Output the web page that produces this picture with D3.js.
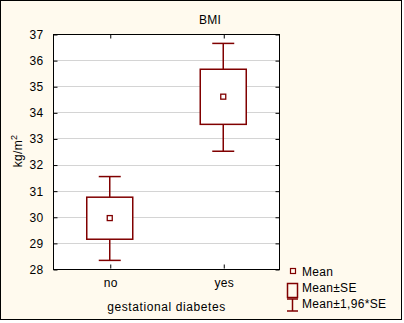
<!DOCTYPE html>
<html>
<head>
<meta charset="utf-8">
<script src="https://cdn.jsdelivr.net/npm/d3@7"></script>
<style>
  body { margin: 0; background: #fff; }
  svg { display: block; font-family: Arial, "Liberation Sans", sans-serif; letter-spacing: 0.3px; }
</style>
</head>
<body>
<svg id="chart" width="404" height="323"></svg>
<script>
'use strict';

const categories = ['no', 'yes'];
const means = [29.95, 34.6];
const seLow = [29.14, 33.54];
const seHigh = [30.75, 35.65];
const ciLow = [28.33, 32.51];
const ciHigh = [31.54, 36.64];
const yTicks = [28, 29, 30, 31, 32, 33, 34, 35, 36, 37];
const legendLabels = ['Mean', 'Mean±SE', 'Mean±1,96*SE'];

const dark = '#800000';
const svg = d3.select('#chart');

// outer panel
svg.append('rect')
    .attr('x', 0.5).attr('y', 0.5)
    .attr('width', 401).attr('height', 319)
    .attr('fill', '#fffaee')
    .attr('stroke', '#000');

const plot = { left: 53, right: 280, top: 34, bottom: 269 };

const x = d3.scalePoint().domain(categories)
    .range([plot.left, plot.right]).padding(0.5);
const y = d3.scaleLinear().domain([28, 37])
    .range([plot.bottom, plot.top]);

svg.append('rect')
    .attr('x', plot.left).attr('y', plot.top)
    .attr('width', plot.right - plot.left).attr('height', plot.bottom - plot.top)
    .attr('fill', '#fff');

// grid
svg.append('g').selectAll('line')
    .data(yTicks.slice(1, -1)).enter().append('line')
    .attr('x1', plot.left).attr('x2', plot.right)
    .attr('y1', d => Math.round(y(d)) + 0.5).attr('y2', d => Math.round(y(d)) + 0.5)
    .attr('stroke', '#d4d4d4');

// axes with inward ticks
function styleAxis(g) {
    g.select('.domain').remove();
    g.selectAll('text').attr('font-size', 12).attr('fill', '#000');
    g.selectAll('line').attr('stroke', '#000');
}

svg.append('g')
    .attr('transform', 'translate(' + (plot.left + 0.5) + ',0.5)')
    .call(d3.axisRight(y).tickValues(yTicks).tickSize(4).tickFormat(''))
    .call(styleAxis);
svg.append('g')
    .attr('transform', 'translate(' + (plot.left - 0.5) + ',0.5)')
    .call(d3.axisLeft(y).tickValues(yTicks).tickSize(0).tickPadding(9))
    .call(styleAxis);
svg.append('g')
    .attr('transform', 'translate(' + (plot.right - 0.5) + ',0.5)')
    .call(d3.axisLeft(y).tickValues(yTicks).tickSize(4).tickFormat(''))
    .call(styleAxis);
svg.append('g')
    .attr('transform', 'translate(0.5,' + (plot.top + 0.5) + ')')
    .call(d3.axisBottom(x).tickSize(4).tickFormat(''))
    .call(styleAxis);
svg.append('g')
    .attr('transform', 'translate(0.5,' + (plot.bottom - 0.5) + ')')
    .call(d3.axisTop(x).tickSize(4).tickFormat(''))
    .call(styleAxis);
svg.append('g')
    .attr('transform', 'translate(0.5,' + plot.bottom + ')')
    .call(d3.axisBottom(x).tickSize(0).tickPadding(9))
    .call(styleAxis);

svg.append('rect')
    .attr('x', plot.left + 0.5).attr('y', plot.top + 0.5)
    .attr('width', plot.right - plot.left - 1).attr('height', plot.bottom - plot.top)
    .attr('fill', 'none').attr('stroke', '#000');

// boxes and whiskers
const boxW = 46, capW = 22;
const groups = svg.append('g').selectAll('g')
    .data(categories).enter().append('g');

groups.append('line')
    .attr('x1', d => x(d)).attr('x2', d => x(d))
    .attr('y1', (d, i) => y(ciHigh[i])).attr('y2', (d, i) => y(ciLow[i]))
    .attr('stroke', dark).attr('stroke-width', 1.5);
groups.selectAll('.cap')
    .data((d, i) => [ciLow[i], ciHigh[i]].map(v => ({ c: d, v: v })))
    .enter().append('line')
    .attr('x1', d => x(d.c) - capW / 2).attr('x2', d => x(d.c) + capW / 2)
    .attr('y1', d => y(d.v)).attr('y2', d => y(d.v))
    .attr('stroke', dark).attr('stroke-width', 1.5);
groups.append('rect')
    .attr('x', d => x(d) - boxW / 2)
    .attr('y', (d, i) => y(seHigh[i]))
    .attr('width', boxW)
    .attr('height', (d, i) => y(seLow[i]) - y(seHigh[i]))
    .attr('fill', '#fff').attr('stroke', dark).attr('stroke-width', 1.5);
groups.append('rect')
    .attr('x', d => x(d) - 2.5)
    .attr('y', (d, i) => y(means[i]) - 2.5)
    .attr('width', 5).attr('height', 5)
    .attr('fill', 'none').attr('stroke', dark).attr('stroke-width', 1.3);

// titles
svg.append('text')
    .attr('x', 210).attr('y', 24)
    .attr('text-anchor', 'middle').attr('font-size', 12)
    .text('BMI');
svg.append('text')
    .attr('x', (plot.left + plot.right) / 2).attr('y', 311)
    .attr('text-anchor', 'middle').attr('font-size', 12)
    .attr('letter-spacing', 0.6)
    .text('gestational diabetes');
const yl = svg.append('text')
    .attr('transform', 'translate(22,' + 151 + ') rotate(-90)')
    .attr('text-anchor', 'middle').attr('font-size', 12);
yl.append('tspan').text('kg/m');
yl.append('tspan').attr('font-size', 9).attr('dy', -5).text('2');

// legend
const lg = svg.append('g');
lg.append('rect').attr('x', 290.5).attr('y', 268.5).attr('width', 5).attr('height', 5)
    .attr('fill', 'none').attr('stroke', dark).attr('stroke-width', 1.2);
lg.append('rect').attr('x', 287.5).attr('y', 283.5).attr('width', 10).attr('height', 14)
    .attr('fill', 'none').attr('stroke', dark).attr('stroke-width', 1.5);
lg.append('line').attr('x1', 292.5).attr('x2', 292.5).attr('y1', 299).attr('y2', 311)
    .attr('stroke', dark).attr('stroke-width', 1.5);
lg.append('line').attr('x1', 287).attr('x2', 298).attr('y1', 299).attr('y2', 299)
    .attr('stroke', dark).attr('stroke-width', 1.5);
lg.append('line').attr('x1', 287).attr('x2', 298).attr('y1', 311).attr('y2', 311)
    .attr('stroke', dark).attr('stroke-width', 1.5);
lg.selectAll('text').data(legendLabels).enter().append('text')
    .attr('x', 302).attr('y', (d, i) => 276 + i * 16)
    .attr('font-size', 12)
    .text(d => d);
</script>
</body>
</html>
